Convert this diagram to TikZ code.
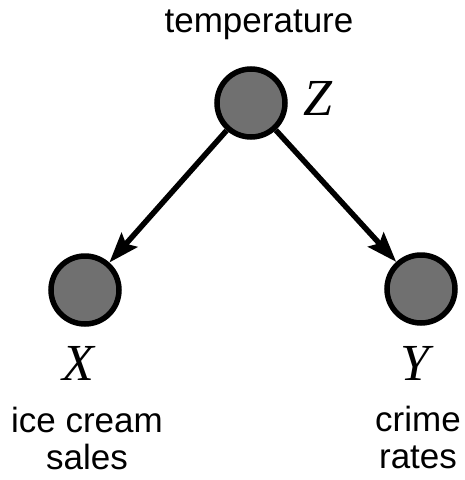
\documentclass[tikz,border=0pt]{standalone}
\usepackage{fontspec}
\setmainfont{Liberation Sans}
\newfontfamily\mathserif{Liberation Serif}
\usetikzlibrary{arrows.meta}
\definecolor{nodegray}{RGB}{112,112,112}
\begin{document}
\begin{tikzpicture}[x=1pt,y=-1pt,
  varnode/.style={circle,draw=black,line width=5.5pt,fill=nodegray,minimum size=68pt,inner sep=0pt},
  edge/.style={line width=5.5pt,-{Stealth[length=30pt,width=21pt,inset=5pt]}},
  varlabel/.style={font=\fontsize{52}{52}\selectfont\mathserif\itshape,anchor=base,inner sep=0pt},
  desc/.style={font=\fontsize{35}{38}\selectfont,anchor=base,inner sep=0pt,align=center}]
\useasboundingbox (0,0) rectangle (465,480);
\node[varnode] (Z) at (251,103) {};
\node[varnode] (X) at (85,290) {};
\node[varnode] (Y) at (421,289) {};
\draw[edge] (Z) -- (X);
\draw[edge] (Z) -- (Y);
\node[varlabel] (zl) at (318,115) {Z};
\node[varlabel] (xl) at (78,380) {X};
\node[varlabel] (yl) at (415,380) {Y};
\node[desc] (tl) at (259,32) {temperature};
\node[desc] (il1) at (87,432) {ice cream};
\node[desc] (il2) at (87,469) {sales};
\node[desc] (cl1) at (418,431) {crime};
\node[desc] (cl2) at (418,468) {rates};
\end{tikzpicture}
\end{document}
